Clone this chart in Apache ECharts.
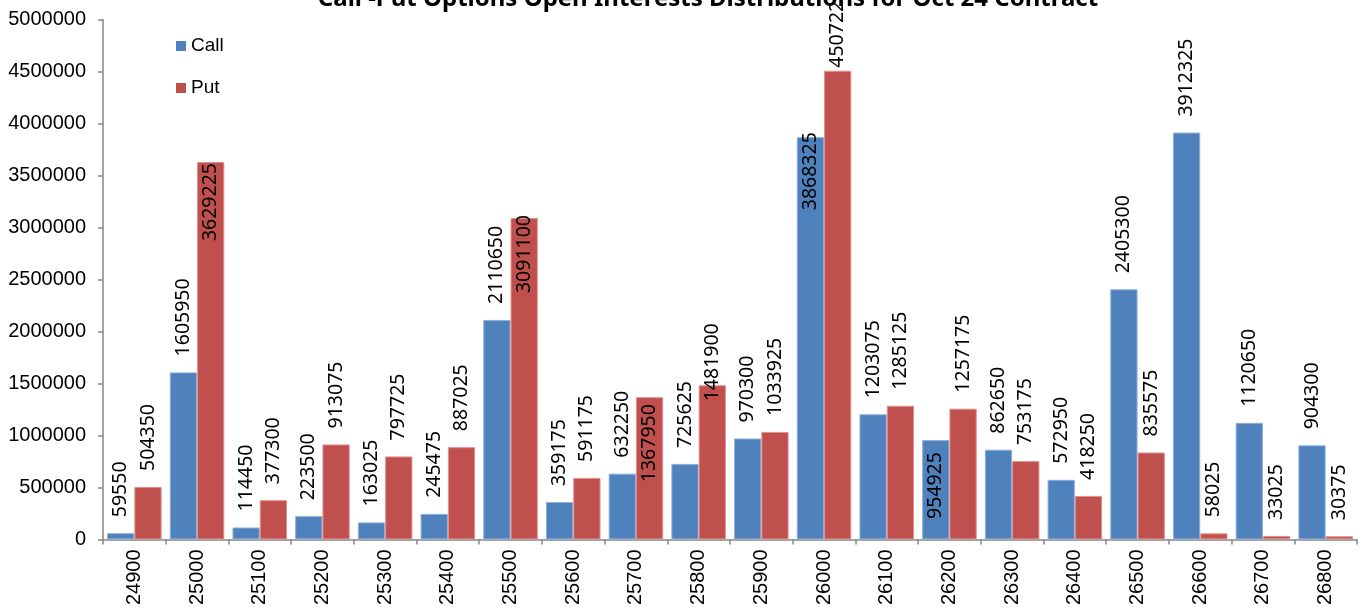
<!DOCTYPE html>
<html>
<head>
<meta charset="utf-8">
<script src="https://cdn.jsdelivr.net/npm/echarts@6/dist/echarts.min.js"></script>
<style>
html,body{margin:0;padding:0;background:#fff;}
#chart{width:1360px;height:608px;}
</style>
</head>
<body>
<div id="chart"></div>
<script>
const categories = ['24900','25000','25100','25200','25300','25400','25500','25600','25700','25800','25900','26000','26100','26200','26300','26400','26500','26600','26700','26800'];
const callValues = [59550,1605950,114450,223500,163025,245475,2110650,359175,632250,725625,970300,3868325,1203075,954925,862650,572950,2405300,3912325,1120650,904300];
const putValues = [504350,3629225,377300,913075,797725,887025,3091100,591175,1367950,1481900,1033925,4507225,1285125,1257175,753175,418250,835575,58025,33025,30375];
const yTicks = {min:0, max:5000000, interval:500000};

// label placement tweaks (style only): index -> [inside?, distance]
const callLabelTweaks = {11:[true,5], 13:[true,-12]};
const putLabelTweaks = {1:[true,-1], 6:[true,3], 8:[true,-7], 9:[false,-16], 11:[false,3]};

const labelFont = {color:'#000', fontSize:19.5, fontFamily:'"Noto Sans", sans-serif'};
function buildData(values, tweaks){
  return values.map((v,i)=>{
    const t = tweaks[i];
    if(!t) return v;
    return {value:v, label:{align: t[0]?'right':'left', distance:t[1]}};
  });
}

const chart = echarts.init(document.getElementById('chart'), null, {renderer:'canvas'});
chart.setOption({
  animation:false,
  backgroundColor:'#fff',
  title:{
    text:'Call -Put Options Open Interests Distributions for Oct 24 Contract',
    left:708, top:-13, textAlign:'center', padding:0,
    textStyle:{fontFamily:'"Noto Sans", sans-serif', fontWeight:'bold', fontSize:24, color:'#000'}
  },
  legend:{
    orient:'vertical', left:176, top:36, padding:0, itemWidth:10, itemHeight:10, itemGap:22, itemTextGap:4,
    icon:'rect',
    itemStyle:{borderWidth:0},
    textStyle:{fontFamily:'"Liberation Sans", Arial, sans-serif', fontSize:19, color:'#000', lineHeight:20},
    data:['Call','Put']
  },
  grid:{left:103, right:3, top:19.5, bottom:66},
  xAxis:{
    type:'category', data:categories, boundaryGap:true,
    axisLine:{lineStyle:{color:'#868686', width:1.5}},
    axisTick:{show:true, interval:0, length:5, lineStyle:{color:'#868686', width:1.5}},
    axisLabel:{interval:0, rotate:90, margin:10, color:'#000', fontSize:20, fontFamily:'"Liberation Sans", Arial, sans-serif'}
  },
  yAxis:{
    type:'value', min:yTicks.min, max:yTicks.max, interval:yTicks.interval,
    splitLine:{show:false},
    axisLine:{show:true, lineStyle:{color:'#868686', width:1.5}},
    axisTick:{show:true, length:5, lineStyle:{color:'#868686', width:1.5}},
    axisLabel:{margin:17, color:'#000', fontSize:20, fontFamily:'"Liberation Sans", Arial, sans-serif', formatter:(v)=>String(v)}
  },
  series:[
    {
      name:'Call', type:'bar', data:buildData(callValues, callLabelTweaks),
      barGap:'0%', barCategoryGap:'13%',
      itemStyle:{color:'#4F81BD', borderColor:'#8DAFDA', borderWidth:1},
      label:Object.assign({show:true, position:'top', rotate:90, align:'left', verticalAlign:'middle', distance:16}, labelFont)
    },
    {
      name:'Put', type:'bar', data:buildData(putValues, putLabelTweaks),
      barGap:'0%', barCategoryGap:'13%',
      itemStyle:{color:'#C0504D', borderColor:'#E0908E', borderWidth:1},
      label:Object.assign({show:true, position:'top', rotate:90, align:'left', verticalAlign:'middle', distance:16}, labelFont)
    }
  ]
});
</script>
</body>
</html>
